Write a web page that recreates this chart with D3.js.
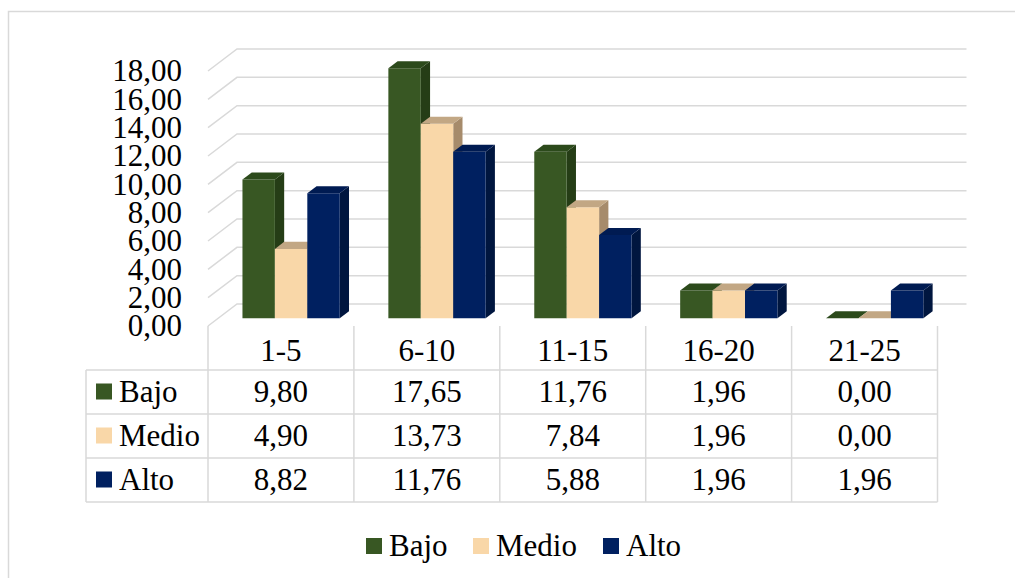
<!DOCTYPE html>
<html>
<meta charset="utf-8">
<style>
  body { margin: 0; background: #fff; }
  .grid { stroke: #d9d9d9; stroke-width: 1.5; fill: none; }
  .cell { stroke: #d9d9d9; stroke-width: 1.5; fill: none; }
</style>
<body>
<script src="https://d3js.org/d3.v7.min.js"></script>
<script>
  // data
  let categories = ["1-5", "6-10", "11-15", "16-20", "21-25"];
  let seriesNames = ["Bajo", "Medio", "Alto"];
  let bajo = [9.80, 17.65, 11.76, 1.96, 0.00];
  let medio = [4.90, 13.73, 7.84, 1.96, 0.00];
  let alto = [8.82, 11.76, 5.88, 1.96, 1.96];
  let yTicks = [0, 2, 4, 6, 8, 10, 12, 14, 16, 18];

  let values = [bajo, medio, alto];
  let front = ["#385723", "#f9d7a8", "#002060"];
  let side = ["#253d16", "#a68b6b", "#00163f"];
  let top_ = ["#2c4a1b", "#c2a784", "#001b52"];

  let width = 1015, height = 578;
  let fontSize = 31;
  let serif = "'Liberation Serif', serif";

  let svg = d3.select("body").append("svg")
    .attr("width", width)
    .attr("height", height);

  // every label goes through this so the font is set on the element itself
  function label(sel) {
    return sel.append("text")
      .attr("font-family", serif)
      .attr("fill", "#000")
      .style("font-size", fontSize + "px")
      .attr("dy", "0.33em");
  }

  // outer chart border (runs past the window on right and bottom)
  svg.append("rect")
    .attr("x", 8.5).attr("y", 11.5)
    .attr("width", 1030).attr("height", 600)
    .attr("fill", "none").attr("stroke", "#d9d9d9").attr("stroke-width", 1.5);

  // front plane scales
  let x = d3.scaleBand().domain(categories).range([208, 937.5]);
  let y = d3.scaleLinear().domain([0, 18]).range([326, 71]);

  // oblique depth: z=0 front plane, z=1 back wall
  let DX = 29, DY = 22;
  let proj = (px, py, z) => [px + z * DX, py - z * DY];

  // walls: side diagonals + back gridlines
  let g = svg.append("g");
  yTicks.forEach(t => {
    let a = proj(x.range()[0], y(t), 0), b = proj(x.range()[0], y(t), 1), c = proj(x.range()[1], y(t), 1);
    g.append("path").attr("class", "grid")
      .attr("d", `M${a[0]},${a[1]}L${b[0]},${b[1]}L${c[0]},${c[1]}`);
  });

  // y axis labels
  let fmt = d => d3.format(".2f")(d).replace(".", ",");
  let yAx = svg.append("g");
  yTicks.forEach(t => {
    label(yAx).attr("x", 182).attr("y", y(t))
      .attr("text-anchor", "end")
      .text(fmt(t));
  });

  // bars
  let bw = x.bandwidth() / 4.5;
  let gap = bw * 0.75;
  let z0 = 0.35, z1 = 0.67;
  let bars = svg.append("g");
  let pts = a => a.map(p => p.join(",")).join(" ");
  categories.forEach((cat, ci) => {
    values.forEach((vals, si) => {
      let v = vals[ci];
      let xl = x(cat) + gap + si * bw, xr = xl + bw;
      let fTL = proj(xl, y(v), z0), fTR = proj(xr, y(v), z0);
      let fBL = proj(xl, y(0), z0), fBR = proj(xr, y(0), z0);
      let bTL = proj(xl, y(v), z1), bTR = proj(xr, y(v), z1), bBR = proj(xr, y(0), z1);
      // side face
      bars.append("polygon").attr("points", pts([fTR, bTR, bBR, fBR])).attr("fill", side[si]);
      // front face
      if (v > 0) bars.append("polygon").attr("points", pts([fTL, fTR, fBR, fBL])).attr("fill", front[si]);
      // top face
      bars.append("polygon").attr("points", pts([fTL, bTL, bTR, fTR])).attr("fill", top_[si]);
    });
  });

  // data table
  let tTop = 326, hdrBottom = 370, rowH = 44, tLeft = 86;
  let tBottom = hdrBottom + rowH * 3;
  let tbl = svg.append("g");
  categories.concat(["end"]).forEach((c, i) => {
    let xx = i < categories.length ? x(c) : x.range()[1];
    tbl.append("line").attr("class", "cell")
      .attr("x1", xx).attr("x2", xx).attr("y1", tTop).attr("y2", tBottom);
  });
  tbl.append("line").attr("class", "cell")
    .attr("x1", tLeft).attr("x2", tLeft).attr("y1", hdrBottom).attr("y2", tBottom);
  for (let r = 0; r <= 3; r++) {
    tbl.append("line").attr("class", "cell")
      .attr("x1", tLeft).attr("x2", x.range()[1])
      .attr("y1", hdrBottom + r * rowH).attr("y2", hdrBottom + r * rowH);
  }
  // header labels
  categories.forEach(c => {
    label(tbl).attr("x", x(c) + x.bandwidth() / 2)
      .attr("y", (tTop + hdrBottom) / 2 + 3)
      .attr("text-anchor", "middle")
      .text(c);
  });
  // rows
  seriesNames.forEach((name, si) => {
    let cy = hdrBottom + rowH * si + rowH / 2;
    tbl.append("rect").attr("x", 96).attr("y", cy - 8.5).attr("width", 16).attr("height", 16)
      .attr("fill", front[si]);
    label(tbl).attr("x", 119).attr("y", cy).text(name);
    values[si].forEach((v, ci) => {
      label(tbl).attr("x", x(categories[ci]) + x.bandwidth() / 2)
        .attr("y", cy)
        .attr("text-anchor", "middle")
        .text(fmt(v));
    });
  });

  // legend
  let legX = [366, 473, 603];
  let legY = 546;
  let leg = svg.append("g");
  seriesNames.forEach((name, si) => {
    leg.append("rect").attr("x", legX[si]).attr("y", legY - 8).attr("width", 16).attr("height", 16)
      .attr("fill", front[si]);
    label(leg).attr("x", legX[si] + 23).attr("y", legY).text(name);
  });
</script>
</body>
</html>
